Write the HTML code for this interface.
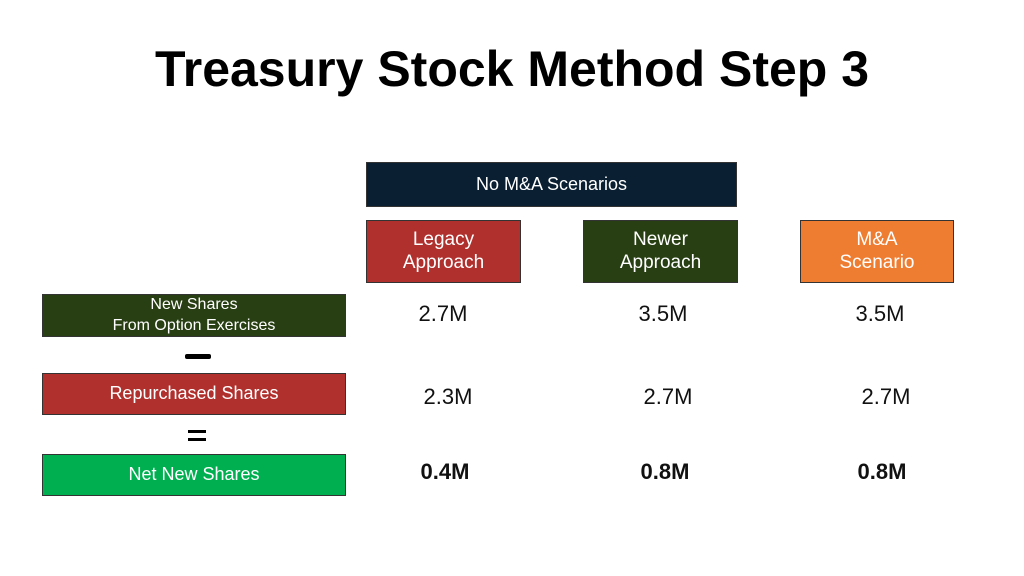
<!DOCTYPE html>
<html><head><style>
body{margin:0;width:1024px;height:576px;background:#fff;position:relative;overflow:hidden;font-family:"Liberation Sans",sans-serif}
.a{position:absolute}
.b{position:absolute;display:flex;align-items:center;justify-content:center;text-align:center;color:#fff;box-sizing:border-box;border:1px solid #333;line-height:1.2}
.v{position:absolute;width:160px;text-align:center;font-size:22px;color:#111}
.bold{font-weight:bold}
</style></head><body>
<div class="a" style="left:0;width:1024px;top:40px;text-align:center;font-size:50px;font-weight:bold;color:#000">Treasury Stock Method Step 3</div>
<div class="b" style="left:366px;top:162px;width:371px;height:45px;background:#0b1f33;font-size:18px">No M&amp;A Scenarios</div>
<div class="b" style="left:366px;top:220px;width:155px;height:63px;background:#b0302e;font-size:19px">Legacy<br>Approach</div>
<div class="b" style="left:583px;top:220px;width:155px;height:63px;background:#273f12;font-size:19px">Newer<br>Approach</div>
<div class="b" style="left:800px;top:220px;width:154px;height:63px;background:#ef7d31;font-size:19px">M&amp;A<br>Scenario</div>
<div class="b" style="left:42px;top:294px;width:304px;height:43px;background:#273f12;font-size:16px;line-height:1.3">New Shares<br>From Option Exercises</div>
<div class="a" style="left:185px;top:354px;width:26px;height:5px;background:#000;border-radius:2px"></div>
<div class="b" style="left:42px;top:373px;width:304px;height:42px;background:#b0302e;font-size:18px">Repurchased Shares</div>
<div class="a" style="left:188px;top:430px;width:18px;height:3px;background:#000"></div>
<div class="a" style="left:188px;top:438px;width:18px;height:3px;background:#000"></div>
<div class="b" style="left:42px;top:454px;width:304px;height:42px;background:#00b050;font-size:18px">Net New Shares</div>
<div class="v" style="left:363px;top:301px">2.7M</div>
<div class="v" style="left:583px;top:301px">3.5M</div>
<div class="v" style="left:800px;top:301px">3.5M</div>
<div class="v" style="left:368px;top:384px">2.3M</div>
<div class="v" style="left:588px;top:384px">2.7M</div>
<div class="v" style="left:806px;top:384px">2.7M</div>
<div class="v bold" style="left:365px;top:459px">0.4M</div>
<div class="v bold" style="left:585px;top:459px">0.8M</div>
<div class="v bold" style="left:802px;top:459px">0.8M</div>
</body></html>
